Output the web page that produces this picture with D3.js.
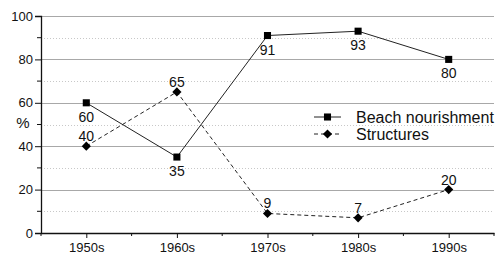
<!DOCTYPE html>
<html>
<head>
<meta charset="utf-8">
<script src="https://cdn.jsdelivr.net/npm/d3@7"></script>
<style>
  body { margin: 0; background: #fff; }
  svg { font-family: "Liberation Sans", Arial, sans-serif; }
</style>
</head>
<body>
<div id="chart"></div>
<script>
// data
const decades = ["1950s", "1960s", "1970s", "1980s", "1990s"];
const beachValues = [60, 35, 91, 93, 80];
const structureValues = [40, 65, 9, 7, 20];
const yTicks = [0, 20, 40, 60, 80, 100];
const yMinorTicks = [10, 30, 50, 70, 90];
// label above (-1) or below (+1) the point
const beachLabelSide = [1, 1, 1, 1, 1];
const structureLabelSide = [-1, -1, -1, -1, -1];

const W = 496, H = 258;
const m = { top: 16, right: 2, bottom: 25, left: 41 };

const svg = d3.select("#chart").append("svg")
  .attr("width", W)
  .attr("height", H);

const x = d3.scalePoint()
  .domain(decades)
  .range([m.left, W - m.right])
  .padding(0.5);
const step = x.step();

const y = d3.scaleLinear()
  .domain([0, 100])
  .range([H - m.bottom, m.top]);

// grid
svg.append("g").selectAll("line")
  .data(yMinorTicks)
  .join("line")
  .attr("x1", m.left).attr("x2", W - m.right)
  .attr("y1", d => Math.round(y(d)) + 0.5).attr("y2", d => Math.round(y(d)) + 0.5)
  .attr("stroke", "#c8c8c8")
  .attr("stroke-dasharray", "1,2");

svg.append("g").selectAll("line")
  .data(yTicks.filter(d => d > 0))
  .join("line")
  .attr("x1", m.left).attr("x2", W - m.right)
  .attr("y1", d => Math.round(y(d)) + 0.5).attr("y2", d => Math.round(y(d)) + 0.5)
  .attr("stroke", "#a8a8a8");

// y axis
const yAxisG = svg.append("g")
  .attr("transform", `translate(${m.left},0)`)
  .call(d3.axisLeft(y).tickValues(yTicks).tickSize(6).tickPadding(2));
yAxisG.select(".domain").attr("stroke", "#111").attr("stroke-width", 1.3);
yAxisG.selectAll(".tick line").attr("stroke", "#111");
yAxisG.selectAll("text").style("font-size", "13px").attr("fill", "#111");
yAxisG.selectAll(".minor")
  .data(yMinorTicks)
  .join("line")
  .attr("class", "minor")
  .attr("x1", -4).attr("x2", 0)
  .attr("y1", d => y(d)).attr("y2", d => y(d))
  .attr("stroke", "#111");

svg.append("text")
  .attr("x", 23)
  .attr("y", 128)
  .attr("text-anchor", "middle")
  .style("font-size", "15px")
  .attr("fill", "#111")
  .text("%");

// x axis
const xAxisG = svg.append("g")
  .attr("transform", `translate(0,${H - m.bottom})`)
  .call(d3.axisBottom(x).tickSize(5).tickPadding(5).tickSizeOuter(0));
xAxisG.select(".domain").attr("stroke", "#111").attr("stroke-width", 1.3);
xAxisG.selectAll(".tick line").attr("stroke", "#111");
xAxisG.selectAll("text").style("font-size", "13px").attr("fill", "#111");
xAxisG.selectAll(".minor")
  .data(d3.range(decades.length + 1))
  .join("line")
  .attr("class", "minor")
  .attr("x1", i => x(decades[0]) - step / 2 + i * step)
  .attr("x2", i => x(decades[0]) - step / 2 + i * step)
  .attr("y1", 0).attr("y2", 3)
  .attr("stroke", "#111");

// series
const line = d3.line()
  .x((d, i) => x(decades[i]))
  .y(d => y(d));

svg.append("path")
  .datum(beachValues)
  .attr("fill", "none")
  .attr("stroke", "#222")
  .attr("stroke-width", 1)
  .attr("d", line);

svg.append("path")
  .datum(structureValues)
  .attr("fill", "none")
  .attr("stroke", "#222")
  .attr("stroke-width", 1)
  .attr("stroke-dasharray", "4,3")
  .attr("d", line);

const square = d3.symbol().type(d3.symbolSquare).size(50);
// diamond = square turned 45 degrees
const diamond = d3.symbol().type(d3.symbolSquare).size(42);

svg.append("g").selectAll("path")
  .data(beachValues)
  .join("path")
  .attr("transform", (d, i) => `translate(${x(decades[i])},${y(d)})`)
  .attr("d", square)
  .attr("fill", "#000");

svg.append("g").selectAll("path")
  .data(structureValues)
  .join("path")
  .attr("transform", (d, i) => `translate(${x(decades[i])},${y(d)}) rotate(45)`)
  .attr("d", diamond)
  .attr("fill", "#000");

// value labels
function addLabels(values, sides) {
  svg.append("g").selectAll("text")
    .data(values)
    .join("text")
    .attr("x", (d, i) => x(decades[i]))
    .attr("y", (d, i) => y(d) + (sides[i] > 0 ? 19 : -5))
    .attr("text-anchor", "middle")
    .style("font-size", "14px")
    .attr("fill", "#111")
    .text(d => d);
}
addLabels(beachValues, beachLabelSide);
addLabels(structureValues, structureLabelSide);

// legend
const legend = svg.append("g").attr("transform", "translate(314,0)");
const legendItems = [
  { name: "Beach nourishment", dash: null, sym: square, rot: 0, y: 117 },
  { name: "Structures", dash: "4,3", sym: diamond, rot: 45, y: 134 }
];
legendItems.forEach(it => {
  legend.append("line")
    .attr("x1", 0).attr("x2", 27)
    .attr("y1", it.y).attr("y2", it.y)
    .attr("stroke", "#222")
    .attr("stroke-dasharray", it.dash);
  legend.append("path")
    .attr("transform", `translate(13.5,${it.y}) rotate(${it.rot})`)
    .attr("d", it.sym)
    .attr("fill", "#000");
  legend.append("text")
    .attr("x", 42)
    .attr("y", it.y + 5.5)
    .style("font-size", "16px")
    .attr("fill", "#111")
    .text(it.name);
});
</script>
</body>
</html>
